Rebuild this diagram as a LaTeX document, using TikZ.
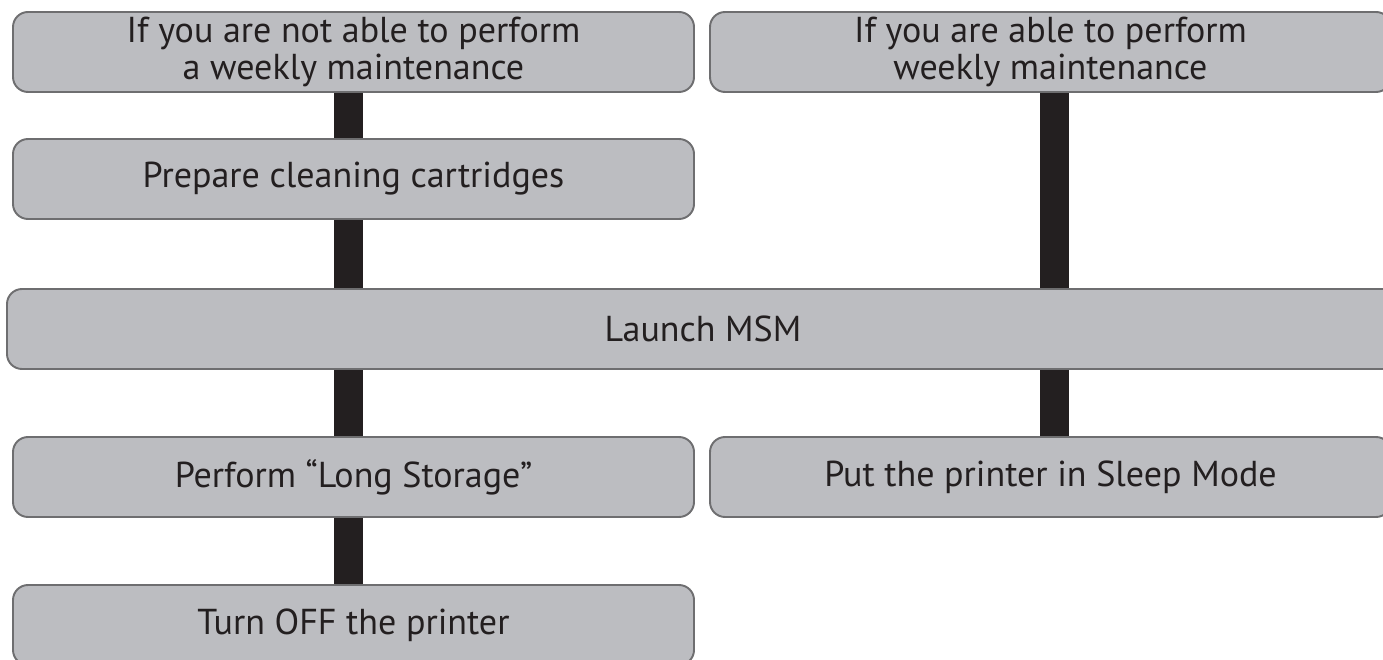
\documentclass[tikz,border=0pt]{standalone}
\usepackage{fontspec}
\setmainfont{PT Sans}
\usetikzlibrary{backgrounds}

\definecolor{boxfill}{RGB}{188,189,193}
\definecolor{boxline}{RGB}{110,110,112}
\definecolor{barcol}{RGB}{35,31,32}

\begin{document}
\begin{tikzpicture}[
  stepbox/.style={draw=boxline,fill=boxfill,line width=1.1pt,rounded corners=0.3cm,
    minimum height=1.6cm,minimum width=13.62cm,align=center,inner sep=0pt,
    font=\fontsize{20.5}{21.5}\selectfont,text=barcol},
  bar/.style={barcol,line width=0.58cm}]
  \useasboundingbox (0,0) rectangle (27.66,-13.2);
  % left branch
  \node[stepbox] (notable) at (7.07,-1.04) {If you are not able to perform\\a weekly maintenance};
  \node[stepbox] (prep) at (7.07,-3.58) {Prepare cleaning cartridges};
  % right branch
  \node[stepbox] (able) at (21.01,-1.04) {If you are able to perform\\weekly maintenance};
  % common step
  \node[stepbox,minimum width=27.84cm] (msm) at (14.06,-6.58) {Launch MSM};
  \node[stepbox] (storage) at (7.07,-9.54) {Perform \char"201C Long Storage\char"201D};
  \node[stepbox] (sleep) at (21.01,-9.54) {Put the printer in Sleep Mode};
  \node[stepbox] (off) at (7.07,-12.5) {Turn OFF the printer};
  % bars behind the boxes
  \coordinate (lx) at (6.97,0);
  \coordinate (rx) at (21.09,0);
  \begin{scope}[on background layer]
    \draw[bar] (notable.south -| lx) -- (prep.north -| lx);
    \draw[bar] (prep.south -| lx) -- (msm.north -| lx);
    \draw[bar] (msm.south -| lx) -- (storage.north -| lx);
    \draw[bar] (storage.south -| lx) -- (off.north -| lx);
    \draw[bar] (able.south -| rx) -- (msm.north -| rx);
    \draw[bar] (msm.south -| rx) -- (sleep.north -| rx);
  \end{scope}
\end{tikzpicture}
\end{document}
